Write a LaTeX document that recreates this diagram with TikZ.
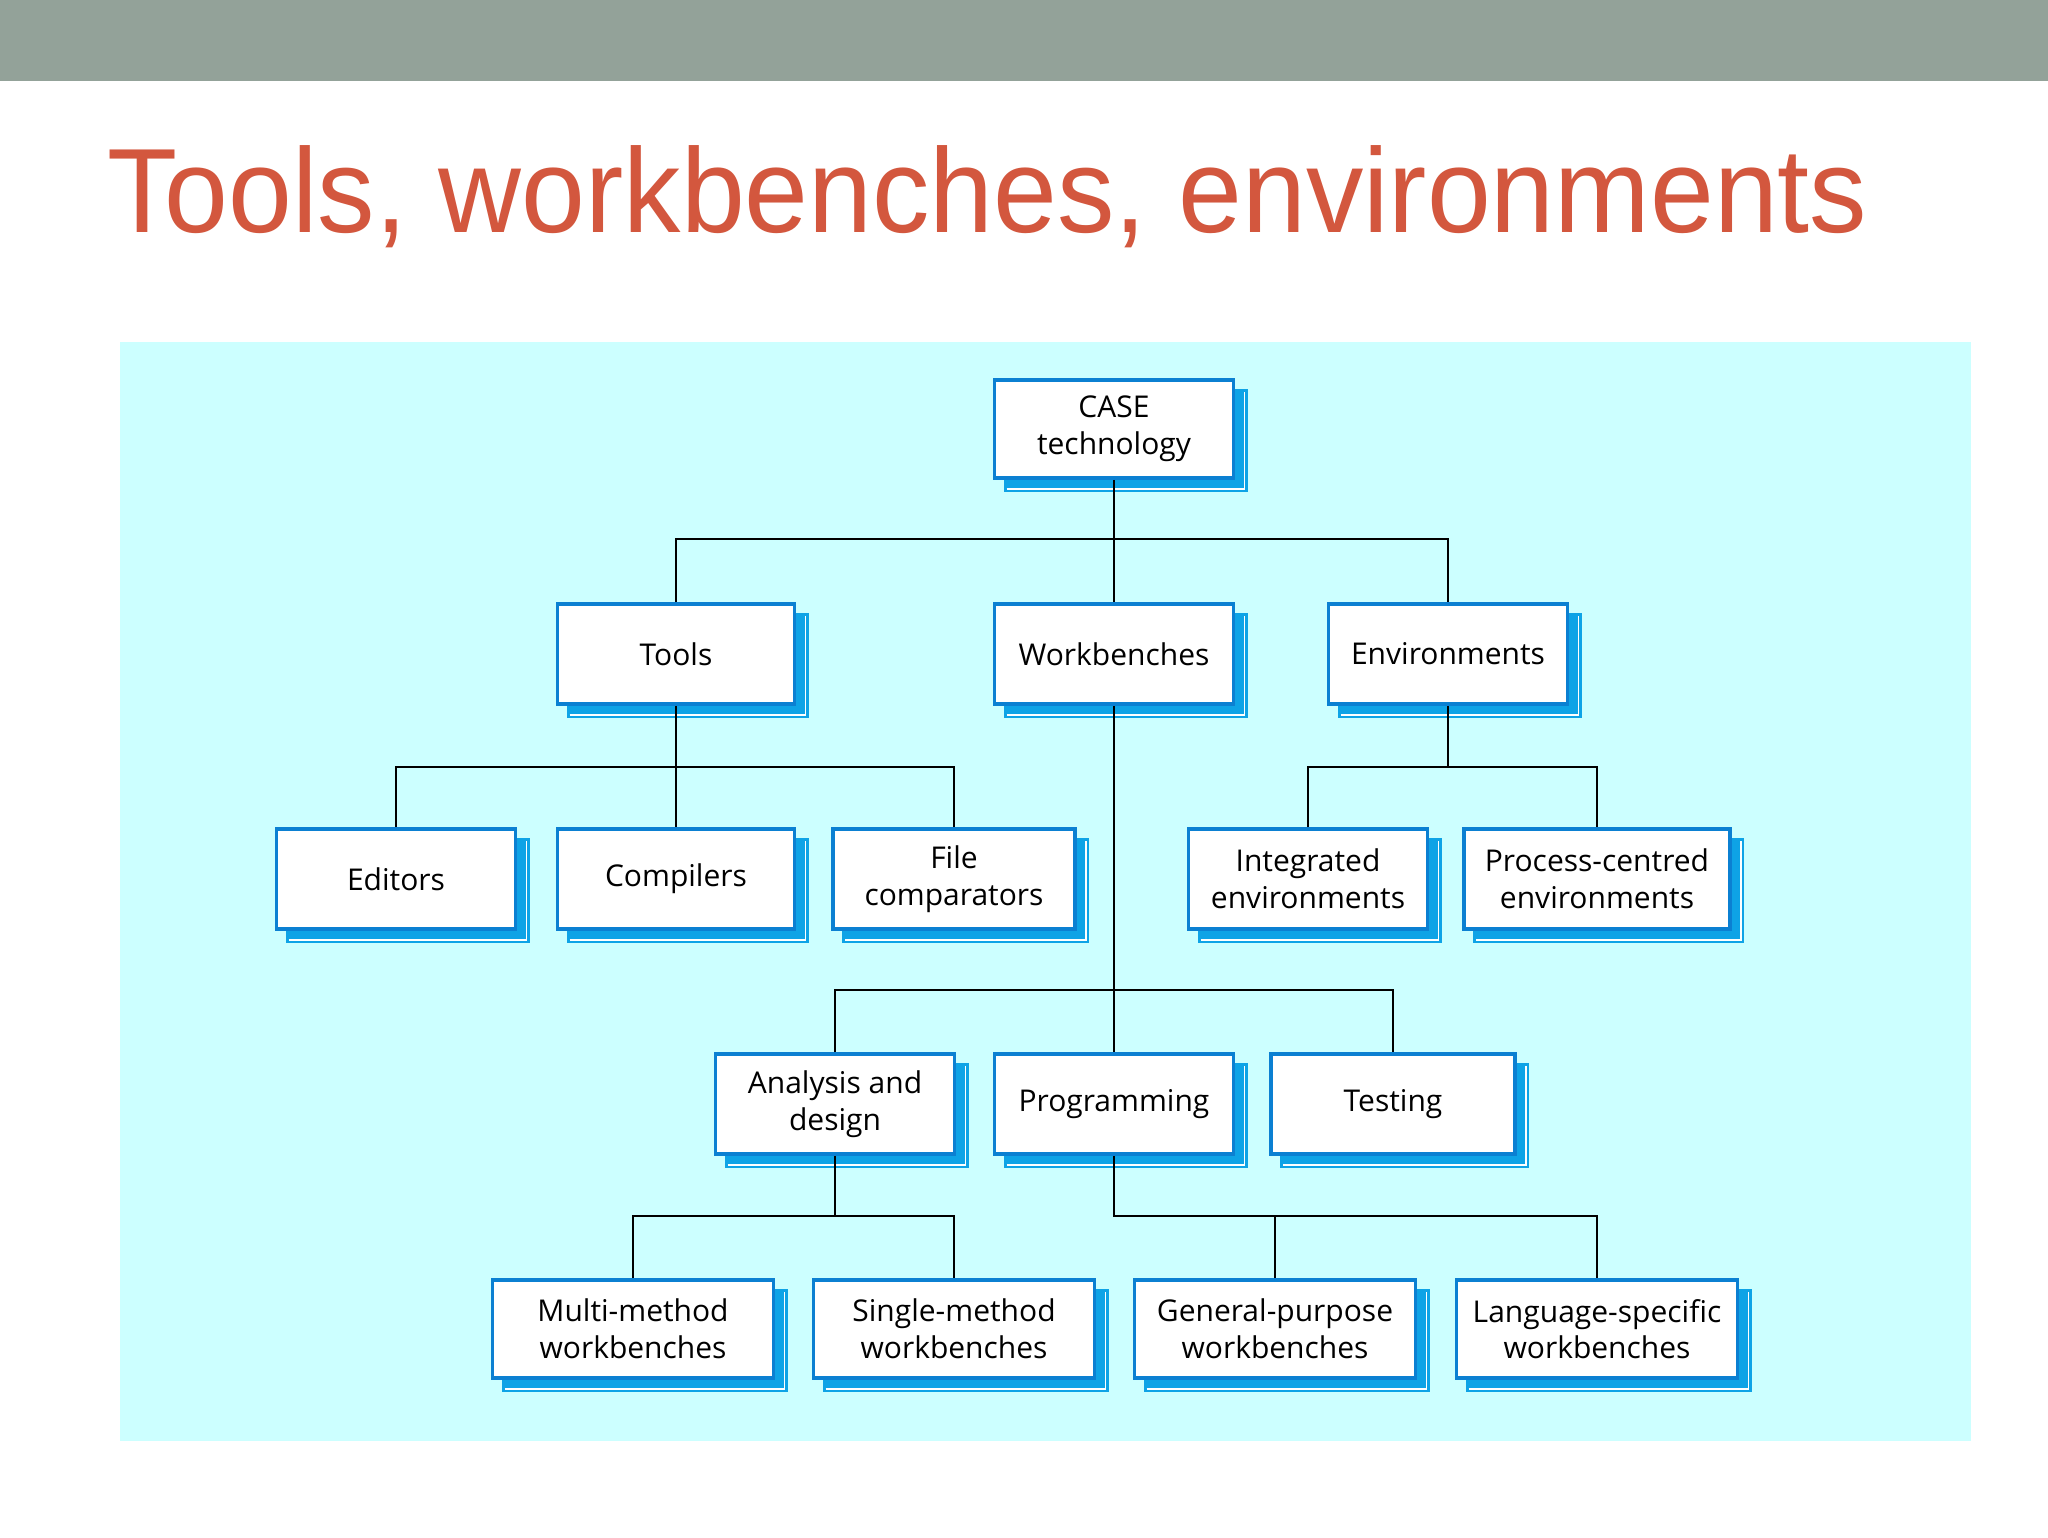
\documentclass[tikz,border=0pt]{standalone}
\usepackage{fontspec}
\setmainfont{Open Sans}
\newfontfamily\titlefont{Liberation Sans}
\usepackage{graphicx}
\definecolor{barGray}{HTML}{93A299}
\definecolor{titleRed}{HTML}{D3573E}
\definecolor{panelCyan}{HTML}{CCFFFF}
\definecolor{frontBlue}{HTML}{0B80D2}
\definecolor{shadowBlue}{HTML}{0EA3E6}
\tikzset{
  frontbox/.style={draw=frontBlue, line width=1.8pt, fill=white, align=center,
    inner sep=2pt, font=\fontsize{15pt}{18.3pt}\selectfont},
  conn/.style={draw=black, line width=1.3pt},
}
% name, cx, cy, width, height, text
\newcommand\casebox[6]{%
  \fill[shadowBlue]
    ({#2-#4/2+9},{#3-#5/2+9}) rectangle ({#2+#4/2+14},{#3+#5/2+14});
  \draw[white, line width=0.7pt]
    ({#2-#4/2+12},{#3+#5/2+11}) -- ({#2+#4/2+11},{#3+#5/2+11}) -- ({#2+#4/2+11},{#3-#5/2+12});
  \node[frontbox, minimum width={#4*0.5pt}, minimum height={#5*0.5pt}] (#1) at (#2,#3) {#6};
}
\begin{document}
\begin{tikzpicture}[x=0.5pt, y=-0.5pt]
\useasboundingbox (0,0) rectangle (2048,1537);
\fill[white] (0,0) rectangle (2048,1537);
\fill[barGray] (0,0) rectangle (2048,81);
\node[anchor=base west, inner sep=0pt, text=titleRed] (title) at (107,232)
  {\resizebox{880pt}{\height}{\titlefont\fontsize{60pt}{72pt}\selectfont Tools, workbenches, environments}};
\fill[panelCyan] (120,342) rectangle (1971,1441);

\casebox{case}{1114}{429}{239}{98}{CASE\\technology}
\casebox{tools}{676}{654}{237}{100}{Tools}
\casebox{wb}{1114}{654}{239}{100}{Workbenches}
\casebox{env}{1448}{654}{239}{100}{Environments}
\casebox{editors}{396}{879}{239}{100}{Editors}
\casebox{compilers}{676}{879}{237}{100}{Compilers}
\casebox{filecomp}{954}{879}{242}{100}{File\\comparators}
\casebox{integ}{1308}{879}{239}{100}{Integrated\\environments}
\casebox{process}{1597}{879}{266}{100}{Process-centred\\environments}
\casebox{analysis}{835}{1104}{239}{100}{Analysis and\\design}
\casebox{prog}{1114}{1104}{239}{100}{Programming}
\casebox{testing}{1393}{1104}{244}{100}{Testing}
\casebox{multi}{633}{1329}{281}{98}{Multi-method\\workbenches}
\casebox{single}{954}{1329}{281}{98}{Single-method\\workbenches}
\casebox{general}{1275}{1329}{281}{98}{General-purpose\\workbenches}
\casebox{lang}{1597}{1329}{281}{98}{Language-specific\\workbenches}

% connectors
\coordinate (b1) at (1114,539);
\draw[conn] (case.south) -- (b1);
\draw[conn] (tools.north) |- (b1) -| (env.north);
\draw[conn] (b1) -- (wb.north);

\coordinate (b2) at (676,767);
\draw[conn] (tools.south) -- (b2);
\draw[conn] (editors.north) |- (b2) -| (filecomp.north);
\draw[conn] (b2) -- (compilers.north);

\coordinate (b3) at (1448,767);
\draw[conn] (env.south) -- (b3);
\draw[conn] (integ.north) |- (b3) -| (process.north);

\coordinate (b4) at (1114,990);
\draw[conn] (wb.south) -- (b4);
\draw[conn] (analysis.north) |- (b4) -| (testing.north);
\draw[conn] (b4) -- (prog.north);

\coordinate (b5) at (835,1216);
\draw[conn] (analysis.south) -- (b5);
\draw[conn] (multi.north) |- (b5) -| (single.north);

\coordinate (b6) at (1114,1216);
\draw[conn] (prog.south) -- (b6) -| (lang.north);
\draw[conn] (general.north) -- (general.north |- b6);
\end{tikzpicture}
\end{document}
